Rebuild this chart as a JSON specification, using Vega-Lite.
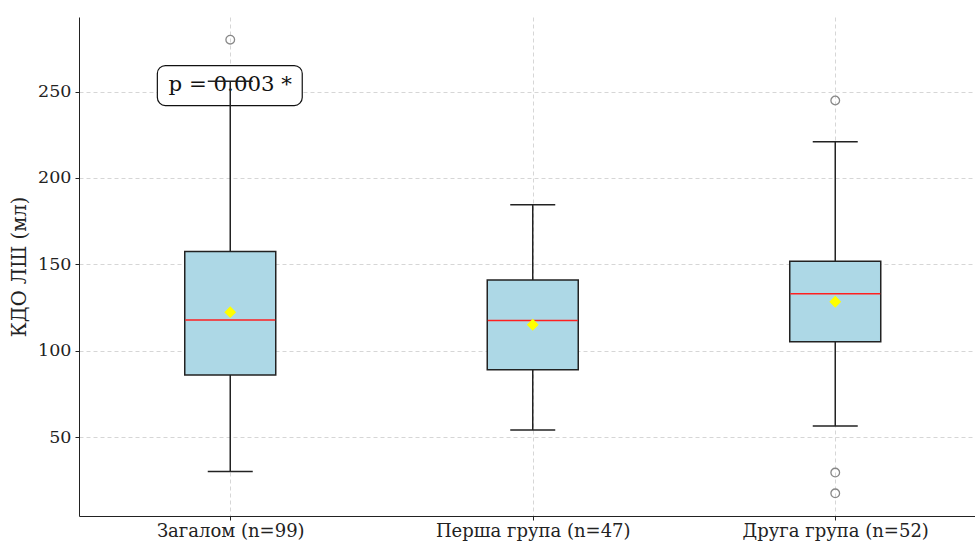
{
  "$schema": "https://vega.github.io/schema/vega-lite/v6.json",
  "autosize": {"type": "none"},
  "padding": {"left": 79, "top": 17, "right": 0, "bottom": 25},
  "width": 896,
  "height": 499,
  "background": "white",
  "config": {
    "view": {"stroke": null},
    "font": "DejaVu Serif",
    "axis": {
      "labelFont": "DejaVu Serif",
      "titleFont": "DejaVu Serif",
      "labelColor": "#222",
      "titleColor": "#222",
      "domainColor": "#222",
      "tickColor": "#222",
      "gridColor": "#cccccc",
      "gridDash": [4, 3],
      "gridWidth": 0.8,
      "labelLimit": 0
    }
  },
  "datasets": {
    "boxes": [
      {"pos": 1, "group": "Загалом (n=99)", "lower": 30.2, "q1": 86.0, "median": 117.8, "mean": 122.4, "q3": 157.5, "upper": 256.0},
      {"pos": 2, "group": "Перша група (n=47)", "lower": 54.2, "q1": 89.1, "median": 117.5, "mean": 115.1, "q3": 141.0, "upper": 184.5},
      {"pos": 3, "group": "Друга група (n=52)", "lower": 56.5, "q1": 105.3, "median": 133.1, "mean": 128.4, "q3": 151.9, "upper": 220.9}
    ],
    "outliers": [
      {"pos": 1, "value": 280.0},
      {"pos": 3, "value": 244.8},
      {"pos": 3, "value": 29.6},
      {"pos": 3, "value": 17.6}
    ],
    "note": [
      {"x": 0.759, "x2": 1.238, "y": 241.9, "y2": 265.0, "ty": 253.5, "tx": 1.0, "label": "p = 0.003 *"}
    ]
  },
  "layer": [
    {
      "data": {"name": "note"},
      "mark": {"type": "rect", "fill": "white", "stroke": "#111", "strokeWidth": 1.2, "cornerRadius": 8},
      "encoding": {
        "x": {"field": "x", "type": "quantitative", "scale": {"domain": [0.5, 3.462], "nice": false, "zero": false, "padding": 0},
          "axis": {"values": [1, 2, 3], "title": null, "grid": true, "labelFontSize": 18, "labelPadding": 2, "tickSize": 4, "labelLimit": 0,
            "labelExpr": "datum.value == 1 ? 'Загалом (n=99)' : datum.value == 2 ? 'Перша група (n=47)' : 'Друга група (n=52)'"}},
        "x2": {"field": "x2"},
        "y": {"field": "y", "type": "quantitative", "scale": {"domain": [4.5, 293.1], "nice": false, "zero": false, "padding": 0},
          "axis": {"values": [50, 100, 150, 200, 250], "title": "КДО ЛШ (мл)", "titleFontSize": 19.5, "titleFontWeight": "normal", "labelFontSize": 17.5, "tickSize": 4, "labelPadding": 4, "titlePadding": 8, "grid": true}},
        "y2": {"field": "y2"}
      }
    },
    {
      "data": {"name": "note"},
      "mark": {"type": "text", "fontSize": 21.3, "font": "DejaVu Serif", "color": "#111", "baseline": "middle", "align": "center"},
      "encoding": {
        "x": {"field": "tx", "type": "quantitative"},
        "y": {"field": "ty", "type": "quantitative"},
        "text": {"field": "label"}
      }
    },
    {
      "data": {"name": "boxes"},
      "mark": {"type": "rule", "color": "#222", "strokeWidth": 1.5},
      "encoding": {
        "x": {"field": "pos", "type": "quantitative"},
        "y": {"field": "lower", "type": "quantitative"},
        "y2": {"field": "upper"}
      }
    },
    {
      "data": {"name": "boxes"},
      "mark": {"type": "tick", "orient": "horizontal", "color": "#222", "size": 45, "thickness": 1.5, "opacity": 1},
      "encoding": {
        "x": {"field": "pos", "type": "quantitative"},
        "y": {"field": "lower", "type": "quantitative"}
      }
    },
    {
      "data": {"name": "boxes"},
      "mark": {"type": "tick", "orient": "horizontal", "color": "#222", "size": 45, "thickness": 1.5, "opacity": 1},
      "encoding": {
        "x": {"field": "pos", "type": "quantitative"},
        "y": {"field": "upper", "type": "quantitative"}
      }
    },
    {
      "data": {"name": "boxes"},
      "mark": {"type": "bar", "fill": "#ADD8E6", "stroke": "#222", "strokeWidth": 1.5, "size": 91, "opacity": 1},
      "encoding": {
        "x": {"field": "pos", "type": "quantitative"},
        "y": {"field": "q1", "type": "quantitative"},
        "y2": {"field": "q3"}
      }
    },
    {
      "data": {"name": "boxes"},
      "mark": {"type": "tick", "orient": "horizontal", "color": "#ff2020", "size": 90, "thickness": 1.5, "opacity": 1},
      "encoding": {
        "x": {"field": "pos", "type": "quantitative"},
        "y": {"field": "median", "type": "quantitative"}
      }
    },
    {
      "data": {"name": "boxes"},
      "mark": {"type": "point", "shape": "diamond", "filled": true, "color": "#ffff00", "size": 140, "opacity": 1},
      "encoding": {
        "x": {"field": "pos", "type": "quantitative"},
        "y": {"field": "mean", "type": "quantitative"}
      }
    },
    {
      "data": {"name": "outliers"},
      "mark": {"type": "point", "shape": "circle", "filled": false, "stroke": "#888", "strokeWidth": 1.3, "size": 75, "opacity": 1},
      "encoding": {
        "x": {"field": "pos", "type": "quantitative"},
        "y": {"field": "value", "type": "quantitative"}
      }
    }
  ]
}
